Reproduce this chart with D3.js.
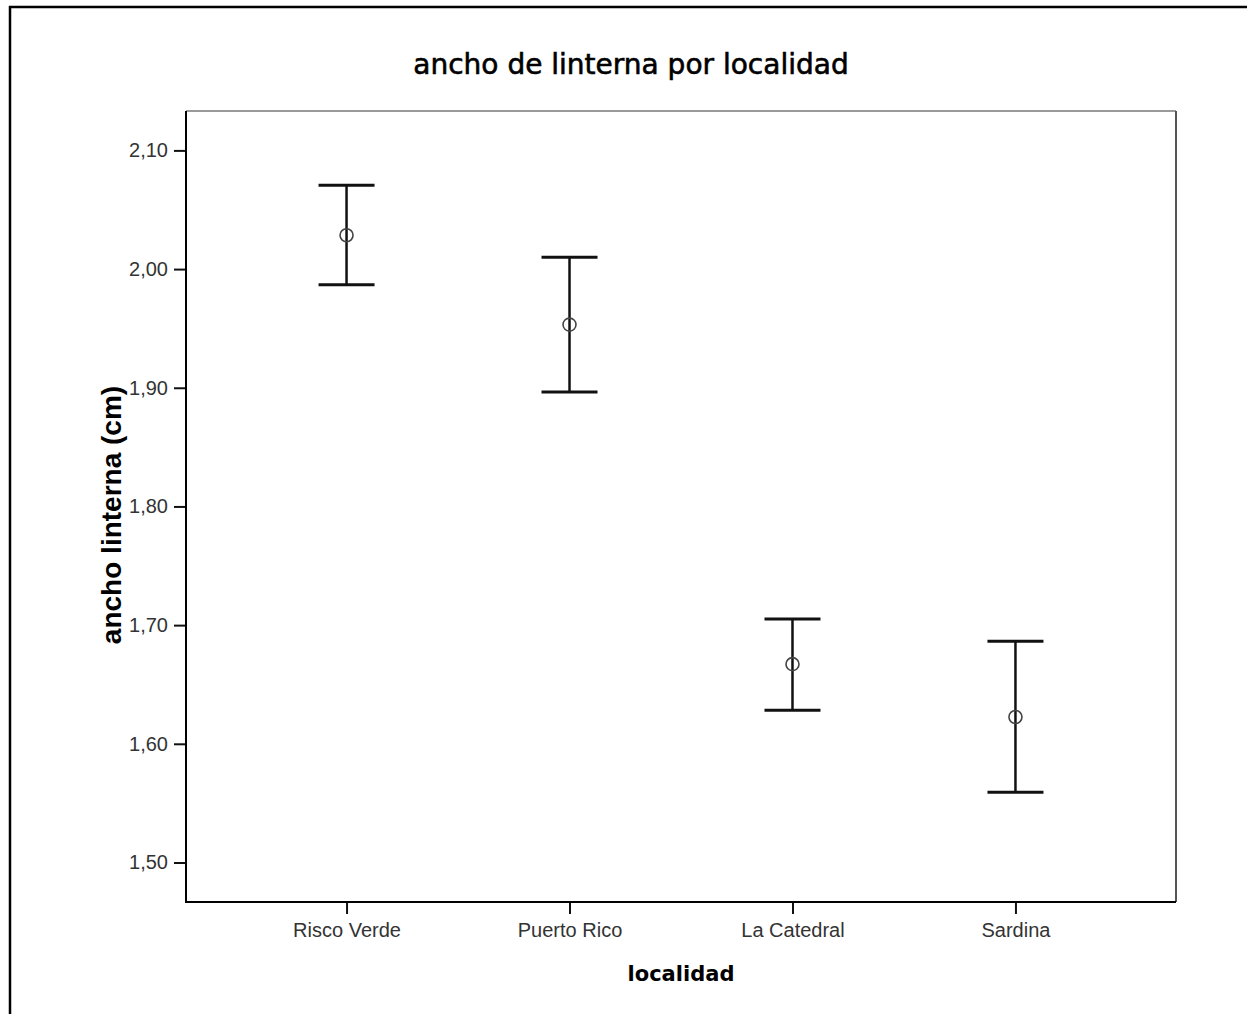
<!DOCTYPE html>
<html>
<head>
<meta charset="utf-8">
<script src="https://cdn.jsdelivr.net/npm/d3@7"></script>
<style>
  html, body { margin: 0; padding: 0; background: #fff; }
  svg { display: block; }
</style>
</head>
<body>
<svg id="chart" width="1247" height="1014"></svg>
<script>
// Localities and the mean with its interval for each one
const categories = ["Risco Verde", "Puerto Rico", "La Catedral", "Sardina"];
const means      = [2.0285, 1.9532, 1.6671, 1.6226];
const lower      = [1.9869, 1.8964, 1.6283, 1.5591];
const upper      = [2.0707, 2.0100, 1.7051, 1.6865];
const yTicks     = [1.50, 1.60, 1.70, 1.80, 1.90, 2.00, 2.10];

const titleText = "ancho de linterna por localidad";
const xTitle = "localidad";
const yTitle = "ancho linterna (cm)";

const W = 1247, H = 1014;
const plot = { left: 186, right: 1176, top: 111, bottom: 902 };

const svg = d3.select("#chart");

// Outer frame (top and left edges)
svg.append("line").attr("x1", 9).attr("x2", W).attr("y1", 7).attr("y2", 7)
  .attr("stroke", "#000").attr("stroke-width", 2.5);
svg.append("line").attr("x1", 10).attr("x2", 10).attr("y1", 6).attr("y2", H)
  .attr("stroke", "#000").attr("stroke-width", 2.5);

const x = d3.scalePoint()
  .domain(categories)
  .range([plot.left, plot.right])
  .padding(0.72);

const y = d3.scaleLinear()
  .domain([1.4667, 2.1332])
  .range([plot.bottom, plot.top]);

const fmt = d => d3.format(".2f")(d).replace(".", ",");

// Plot box: top and right in grey
svg.append("line").attr("x1", plot.left).attr("x2", plot.right)
  .attr("y1", plot.top).attr("y2", plot.top)
  .attr("stroke", "#9a9a9a").attr("stroke-width", 2);
svg.append("line").attr("x1", plot.right).attr("x2", plot.right)
  .attr("y1", plot.top).attr("y2", plot.bottom)
  .attr("stroke", "#555").attr("stroke-width", 2);

// Y axis
const yAxis = d3.axisLeft(y).tickValues(yTicks).tickFormat(fmt)
  .tickSize(12).tickPadding(6);
const gy = svg.append("g").attr("transform", `translate(${plot.left},0)`).call(yAxis);
gy.select(".domain").remove();
gy.selectAll(".tick line").attr("stroke", "#111").attr("stroke-width", 2);
gy.selectAll(".tick text")
  .attr("font-family", "'Liberation Sans', Arial, sans-serif")
  .attr("font-size", 20).attr("fill", "#333");

// X axis
const xAxis = d3.axisBottom(x).tickSize(12).tickPadding(9);
const gx = svg.append("g").attr("transform", `translate(0,${plot.bottom})`).call(xAxis);
gx.select(".domain").remove();
gx.selectAll(".tick line").attr("stroke", "#111").attr("stroke-width", 2);
gx.selectAll(".tick text")
  .attr("font-family", "'Liberation Sans', Arial, sans-serif")
  .attr("font-size", 20).attr("fill", "#333");

// Left and bottom axis lines
svg.append("line").attr("x1", plot.left).attr("x2", plot.left)
  .attr("y1", plot.top).attr("y2", plot.bottom + 1)
  .attr("stroke", "#000").attr("stroke-width", 2);
svg.append("line").attr("x1", plot.left - 1).attr("x2", plot.right)
  .attr("y1", plot.bottom).attr("y2", plot.bottom)
  .attr("stroke", "#000").attr("stroke-width", 2);

// Error bars
const rows = categories.map((c, i) => ({ c, m: means[i], lo: lower[i], hi: upper[i] }));
const capHalf = 28;
const bars = svg.append("g").selectAll("g").data(rows).join("g");
bars.append("line")
  .attr("x1", d => x(d.c)).attr("x2", d => x(d.c))
  .attr("y1", d => y(d.hi)).attr("y2", d => y(d.lo))
  .attr("stroke", "#111").attr("stroke-width", 2.5);
bars.append("line")
  .attr("x1", d => x(d.c) - capHalf).attr("x2", d => x(d.c) + capHalf)
  .attr("y1", d => y(d.hi)).attr("y2", d => y(d.hi))
  .attr("stroke", "#111").attr("stroke-width", 3);
bars.append("line")
  .attr("x1", d => x(d.c) - capHalf).attr("x2", d => x(d.c) + capHalf)
  .attr("y1", d => y(d.lo)).attr("y2", d => y(d.lo))
  .attr("stroke", "#111").attr("stroke-width", 3);
bars.append("circle")
  .attr("cx", d => x(d.c)).attr("cy", d => y(d.m)).attr("r", 6.5)
  .attr("fill", "none").attr("stroke", "#444").attr("stroke-width", 1.6);

// Titles
svg.append("text")
  .attr("x", 631).attr("y", 74)
  .attr("text-anchor", "middle")
  .attr("font-family", "'DejaVu Sans', Verdana, sans-serif")
  .attr("font-size", 28).attr("fill", "#000")
  .attr("stroke", "#000").attr("stroke-width", 0.6)
  .text(titleText);

svg.append("text")
  .attr("x", (plot.left + plot.right) / 2).attr("y", 981)
  .attr("text-anchor", "middle")
  .attr("font-family", "'DejaVu Sans', Verdana, sans-serif")
  .attr("font-weight", "bold")
  .attr("font-size", 21).attr("fill", "#000")
  .text(xTitle);

svg.append("text")
  .attr("transform", `translate(121,515) rotate(-90)`)
  .attr("text-anchor", "middle")
  .attr("font-family", "'Liberation Sans', Arial, sans-serif")
  .attr("font-weight", "bold")
  .attr("font-size", 28).attr("fill", "#000")
  .text(yTitle);
</script>
</body>
</html>
